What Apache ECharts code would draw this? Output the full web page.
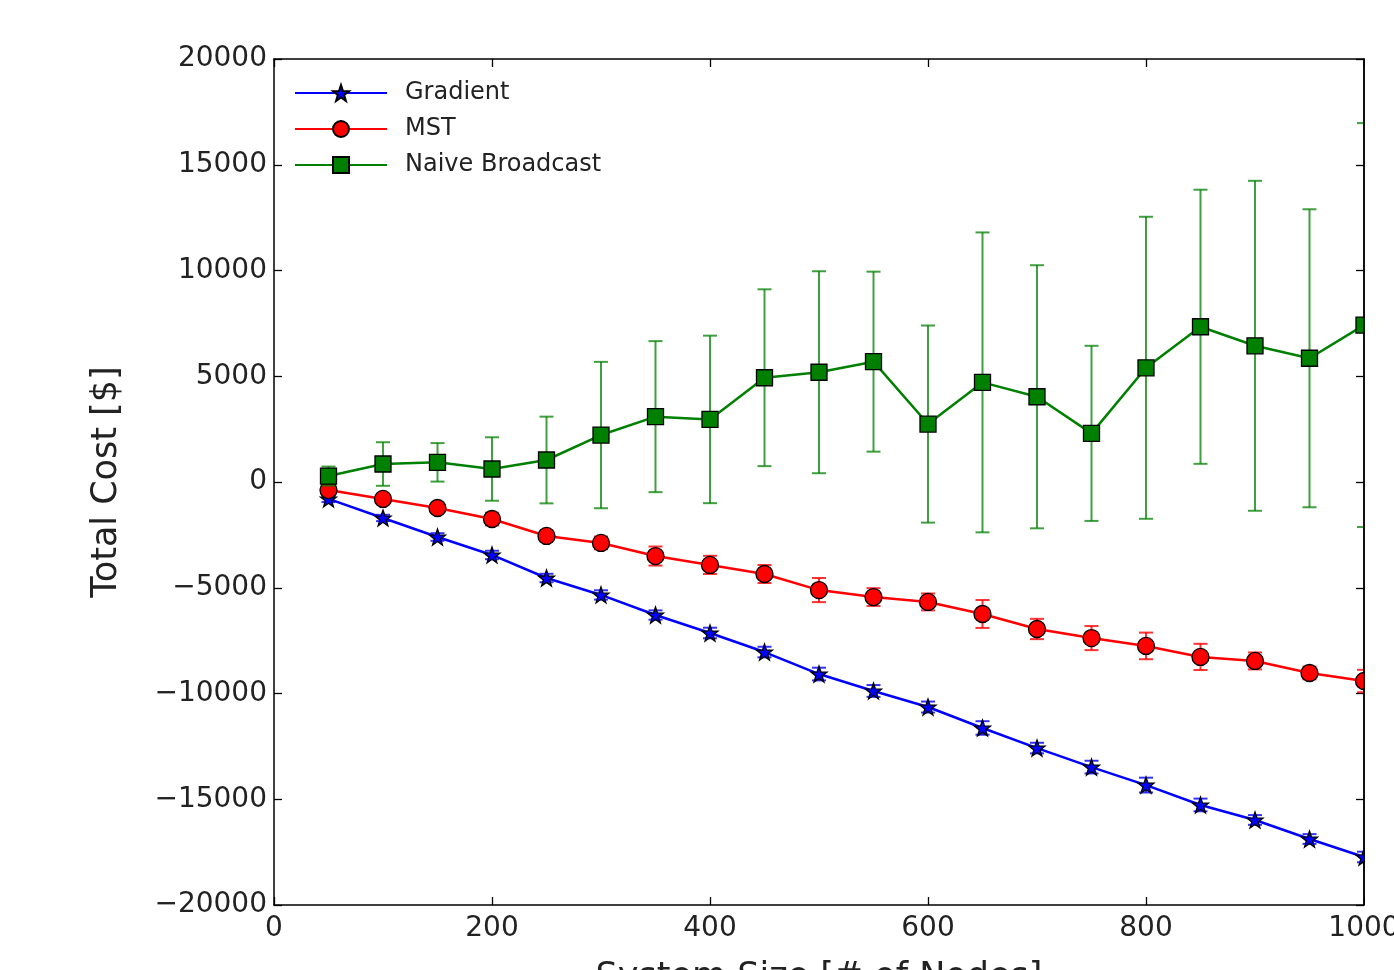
<!DOCTYPE html>
<html><head><meta charset="utf-8">
<script src="https://cdn.jsdelivr.net/npm/echarts@6/dist/echarts.min.js"></script>
<style>html,body{margin:0;padding:0;background:#fff}#c{width:1394px;height:970px}</style>
</head><body><div id="c"></div>
<script>
// ---- data ----
const sizes = [50,100,150,200,250,300,350,400,450,500,550,600,650,700,750,800,850,900,950,1000];
const gradientMean = [-800,-1700,-2600,-3450,-4540,-5340,-6290,-7140,-8040,-9080,-9880,-10640,-11630,-12580,-13480,-14330,-15270,-15980,-16880,-17730];
const gradientErr  = [150,150,180,200,200,220,220,250,250,300,280,260,320,250,300,350,300,230,230,250];
const mstMean = [-380,-800,-1230,-1750,-2550,-2880,-3500,-3920,-4350,-5110,-5440,-5670,-6240,-6950,-7380,-7750,-8270,-8460,-9030,-9410];
const mstErr  = [150,200,200,300,250,300,450,430,425,570,420,400,660,480,570,630,620,400,300,530];
const naiveMean = [280,850,930,615,1040,2220,3090,2960,4930,5190,5690,2740,4710,4030,2300,5400,7340,6440,5850,7420];
const naiveErr  = [450,1030,910,1500,2050,3460,3570,3960,4180,4775,4255,4660,7090,6220,4140,7140,6480,7800,7045,9550];
const xTickValues = [0,200,400,600,800,1000];
const yTickValues = [-20000,-15000,-10000,-5000,0,5000,10000,15000,20000];
const seriesNames = ['Gradient','MST','Naive Broadcast'];

// ---- styles ----
const colors = ['#0000ff','#ff0000','#008000'];
const FONT = 'DejaVu Sans';
const TXT = '#222';

function starPath() {
  const pts = [];
  for (let i = 0; i < 10; i++) {
    const r = i % 2 === 0 ? 50 : 20;
    const a = -Math.PI / 2 + i * Math.PI / 5;
    pts.push((50 + r * Math.cos(a)).toFixed(2) + ' ' + (50 + r * Math.sin(a)).toFixed(2));
  }
  return 'path://M' + pts.join(' L') + ' Z';
}
const symbols = [starPath(), 'circle', 'rect'];
const symbolSizes = [16, 17, 16];

function errRender(color, opacity) {
  return function (params, api) {
    const x = api.value(0), lo = api.value(1), hi = api.value(2);
    const pLo = api.coord([x, lo]), pHi = api.coord([x, hi]);
    const hw = 7;
    const style = { stroke: color, lineWidth: 2, opacity: opacity };
    return { type: 'group', children: [
      { type: 'line', shape: { x1: pLo[0], y1: pLo[1], x2: pHi[0], y2: pHi[1] }, style: style },
      { type: 'line', shape: { x1: pLo[0] - hw, y1: pLo[1], x2: pLo[0] + hw, y2: pLo[1] }, style: style },
      { type: 'line', shape: { x1: pHi[0] - hw, y1: pHi[1], x2: pHi[0] + hw, y2: pHi[1] }, style: style }
    ]};
  };
}

const means = [gradientMean, mstMean, naiveMean];
const errs = [gradientErr, mstErr, naiveErr];
const series = [];
for (let k = 0; k < 3; k++) {
  series.push({
    name: seriesNames[k] + ' error',
    type: 'custom',
    clip: true,
    z: 2 + 2 * k,
    silent: true,
    renderItem: errRender(colors[k], k === 2 ? 0.75 : 0.8),
    encode: { x: 0, y: [1, 2] },
    data: sizes.map((s, i) => [s, means[k][i] - errs[k][i], means[k][i] + errs[k][i]])
  });
  series.push({
    name: seriesNames[k],
    type: 'line',
    z: 3 + 2 * k,
    symbol: symbols[k],
    symbolSize: symbolSizes[k],
    showAllSymbol: true,
    lineStyle: { color: colors[k], width: 2.5 },
    itemStyle: { color: colors[k], borderColor: '#000', borderWidth: 1.3 },
    emphasis: { disabled: true },
    animation: false,
    data: sizes.map((s, i) => [s, means[k][i]])
  });
}

const axisLineStyle = { onZero: false, lineStyle: { color: '#000', width: 1.5 } };
const tickStyle = { show: true, inside: true, length: 8, lineStyle: { color: '#000', width: 1.3 } };
const fmtY = v => String(v).replace('-', '\u2212');
const fmtX = v => String(v);

const option = {
  animation: false,
  backgroundColor: '#fff',
  grid: { left: 274, right: 30, top: 59, bottom: 65, containLabel: false, outerBoundsMode: 'none' },
  legend: {
    data: seriesNames,
    orient: 'vertical',
    left: 289, top: 76,
    itemWidth: 92, itemHeight: 20, itemGap: 12,
    textStyle: { fontFamily: FONT, fontSize: 24, lineHeight: 20, color: TXT, padding: [0, 0, 0, 13] },
    selectedMode: false
  },
  xAxis: [{
    type: 'value', min: 0, max: 1000, interval: 200,
    position: 'bottom',
    name: 'System Size [# of Nodes]', nameLocation: 'middle', nameGap: 55,
    nameTextStyle: { fontFamily: FONT, fontSize: 35, color: TXT },
    axisLine: axisLineStyle, axisTick: tickStyle,
    axisLabel: { fontFamily: FONT, fontSize: 28, color: TXT, margin: 10, formatter: fmtX,
      showMaxLabel: true, showMinLabel: true },
    splitLine: { show: false }
  }, {
    type: 'value', min: 0, max: 1000, interval: 200, position: 'top',
    axisLine: axisLineStyle, axisTick: tickStyle, axisLabel: { show: false }, splitLine: { show: false }
  }],
  yAxis: [{
    type: 'value', min: -20000, max: 20000, interval: 5000,
    position: 'left',
    name: 'Total Cost [$]', nameLocation: 'middle', nameGap: 150,
    nameTextStyle: { fontFamily: FONT, fontSize: 35, color: TXT },
    axisLine: axisLineStyle, axisTick: tickStyle,
    axisLabel: { fontFamily: FONT, fontSize: 28, color: TXT, margin: 7, formatter: fmtY,
      showMaxLabel: true, showMinLabel: true, padding: [4, 0, 0, 0] },
    splitLine: { show: false }
  }, {
    type: 'value', min: -20000, max: 20000, interval: 5000, position: 'right',
    axisLine: axisLineStyle, axisTick: tickStyle, axisLabel: { show: false }, splitLine: { show: false }
  }],
  series: series
};

const chart = echarts.init(document.getElementById('c'), null, { renderer: 'canvas' });
chart.setOption(option);

// mask marker overflow to the right of the plot frame, then redraw the frame edge on top
const pTop = chart.convertToPixel({ gridIndex: 0 }, [1000, 20000]);
const pBot = chart.convertToPixel({ gridIndex: 0 }, [1000, -20000]);
chart.setOption({
  graphic: [
    { type: 'rect', z: 100, silent: true,
      shape: { x: pTop[0] + 1, y: pTop[1] - 12, width: 60, height: pBot[1] - pTop[1] + 12 },
      style: { fill: '#fff' } },
    { type: 'line', z: 101, silent: true,
      shape: { x1: pTop[0], y1: pTop[1], x2: pBot[0], y2: pBot[1] },
      style: { stroke: '#000', lineWidth: 1.5 } }
  ]
});
</script>
</body></html>
